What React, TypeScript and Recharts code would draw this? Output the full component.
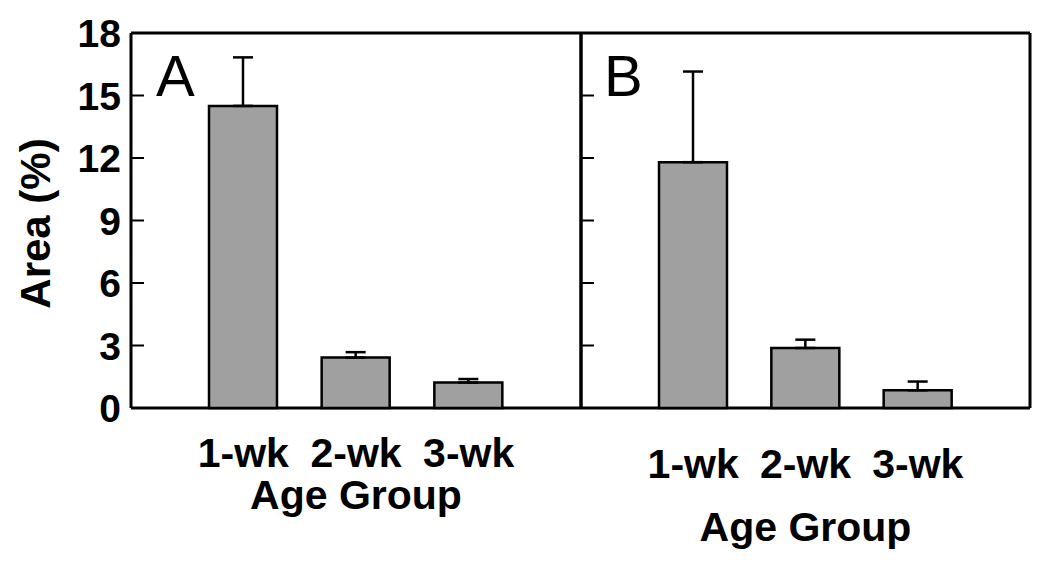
import { BarChart, Bar, XAxis, YAxis, ErrorBar, Label, CartesianGrid } from 'recharts';

const AGE_GROUPS = ['1-wk', '2-wk', '3-wk'];
const AREA_A = [14.5, 2.42, 1.22];
const SEM_A = [2.33, 0.26, 0.17];
const AREA_B = [11.8, 2.88, 0.85];
const SEM_B = [4.35, 0.4, 0.42];
const Y_TICKS = [0, 3, 6, 9, 12, 15, 18];

const FONT = '"Liberation Sans", Arial, Helvetica, sans-serif';
const BAR_GRAY = '#a0a0a0';
const FRAME_LINE = { stroke: '#000', strokeWidth: 3 };

// only upward error bars in the figure, so the low side is 0
function buildRows(values: number[], sems: number[]) {
  return AGE_GROUPS.map((g, i) => ({ group: g, area: values[i], err: [0, sems[i]] }));
}

const dataA = buildRows(AREA_A, SEM_A);
const dataB = buildRows(AREA_B, SEM_B);

// box around the plot: grid lines only at the plot edges
const frameRows = ({ offset }: any) => [offset.top, offset.top + offset.height];
const frameCols = ({ offset }: any) => [offset.left, offset.left + offset.width];

// inward tick mark + optional label; x is the label anchor, axis sits 10px right of it
function YTick(props: any) {
  const { x, y, payload, showLabel } = props;
  return (
    <g>
      <line x1={x + 10} x2={x + 23} y1={y} y2={y} stroke="#000" strokeWidth={2} />
      {showLabel && (
        <text
          x={x}
          y={y}
          dy="0.36em"
          textAnchor="end"
          fontFamily={FONT}
          fontWeight="bold"
          fontSize={39}
          fill="#000"
        >
          {payload.value}
        </text>
      )}
    </g>
  );
}

function YTitle(props: any) {
  const { viewBox } = props;
  const cx = viewBox.x + 35;
  const cy = viewBox.y + viewBox.height / 2 + 3;
  return (
    <text
      x={cx}
      y={cy}
      transform={`rotate(-90, ${cx}, ${cy})`}
      textAnchor="middle"
      dy="0.36em"
      fontFamily={FONT}
      fontWeight="bold"
      fontSize={42}
      fill="#000"
    >
      Area (%)
    </text>
  );
}

type PanelProps = {
  data: ReturnType<typeof buildRows>;
  letter: string;
  letterX: number;
  left: number;
  width: number;
  yAxisWidth: number;
  rightMargin: number;
  showYLabels: boolean;
  tickGap: number;
  titleOffset: number;
};

function Panel(p: PanelProps) {
  return (
    <div style={{ position: 'absolute', left: p.left, top: 0 }}>
      <BarChart
        width={p.width}
        height={561}
        data={p.data}
        margin={{ top: 33, right: p.rightMargin, bottom: 0, left: 0 }}
      >
        <CartesianGrid
          stroke="#000"
          strokeWidth={3}
          horizontal={FRAME_LINE}
          vertical={FRAME_LINE}
          horizontalCoordinatesGenerator={frameRows}
          verticalCoordinatesGenerator={frameCols}
        />
        <XAxis
          dataKey="group"
          height={153}
          axisLine={false}
          tickLine={false}
          tickSize={0}
          tickMargin={p.tickGap}
          padding={{ left: 56, right: 56 }}
          tick={{ fill: '#000', fontSize: 41, fontWeight: 'bold', fontFamily: FONT }}
        >
          <Label
            value="Age Group"
            position="insideBottom"
            offset={p.titleOffset}
            fill="#000"
            fontSize={41}
            fontWeight="bold"
            fontFamily={FONT}
          />
        </XAxis>
        <YAxis
          width={p.yAxisWidth}
          domain={[0, 18]}
          ticks={Y_TICKS}
          interval={0}
          axisLine={false}
          tickLine={false}
          tickSize={0}
          tickMargin={10}
          tick={(t: any) => <YTick {...t} showLabel={p.showYLabels} />}
          label={p.showYLabels ? { content: (l: any) => <YTitle {...l} /> } : undefined}
        />
        <Bar
          dataKey="area"
          fill={BAR_GRAY}
          stroke="#000"
          strokeWidth={2.5}
          barSize={68}
          isAnimationActive={false}
        >
          <ErrorBar dataKey="err" width={10} stroke="#000" strokeWidth={2.5} />
        </Bar>
        <text x={p.letterX} y={96} fontFamily={FONT} fontSize={58} fill="#000">
          {p.letter}
        </text>
      </BarChart>
    </div>
  );
}

export default function App() {
  return (
    <div style={{ position: 'absolute', left: 0, top: 0, width: 1050, height: 561, background: '#fff' }}>
      <Panel
        data={dataA}
        letter="A"
        letterX={156}
        left={0}
        width={600}
        yAxisWidth={131}
        rightMargin={19}
        showYLabels
        tickGap={30}
        titleOffset={52}
      />
      <Panel
        data={dataB}
        letter="B"
        letterX={104}
        left={500}
        width={550}
        yAxisWidth={81}
        rightMargin={20}
        showYLabels={false}
        tickGap={41}
        titleOffset={20}
      />
    </div>
  );
}
